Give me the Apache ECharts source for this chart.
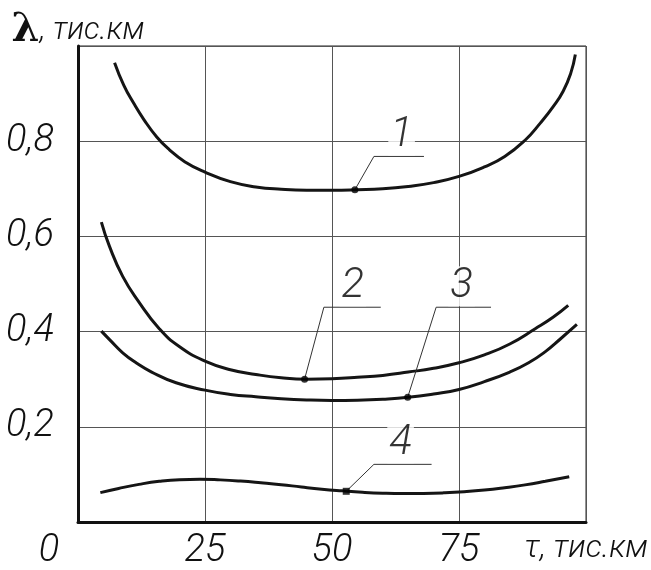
<!DOCTYPE html>
<html>
<head>
<meta charset="utf-8">
<script src="https://cdn.jsdelivr.net/npm/echarts@6/dist/echarts.min.js"></script>
<style>html,body{margin:0;padding:0;background:#fff}#c{width:651px;height:570px}</style>
</head>
<body>
<div id="c"></div>
<script>
// ---- data (τ in тис.км, λ in тис.км) ----
const tau1 = [7.2, 9, 11, 13, 15.5, 18, 21, 25, 30, 35, 40, 45, 50, 55, 60, 65, 70, 75, 80, 84, 88, 91, 93.5, 95.5, 97, 97.9];
const lam1 = [0.965, 0.918, 0.879, 0.845, 0.809, 0.782, 0.757, 0.735, 0.715, 0.704, 0.699, 0.697, 0.697, 0.698, 0.700, 0.705, 0.713, 0.726, 0.746, 0.768, 0.802, 0.838, 0.872, 0.905, 0.943, 0.982];

const tau2 = [4.6, 6.2, 8.8, 12, 16, 20, 25, 30, 35, 40, 45, 50, 55, 60, 65, 70, 75, 80, 85, 90, 93.5, 96.5];
const lam2 = [0.630, 0.579, 0.516, 0.462, 0.406, 0.368, 0.338, 0.320, 0.310, 0.303, 0.300, 0.301, 0.304, 0.308, 0.315, 0.323, 0.3345, 0.351, 0.374, 0.406, 0.430, 0.455];

const tau3 = [4.6, 6.5, 8.8, 11.5, 14.5, 19.3, 25, 30, 35, 40, 45, 50, 55, 60, 65, 70, 75, 80, 85, 88.7, 92, 95, 98.2];
const lam3 = [0.401, 0.380, 0.3555, 0.334, 0.315, 0.2925, 0.277, 0.268, 0.263, 0.259, 0.2565, 0.2555, 0.256, 0.258, 0.262, 0.269, 0.2785, 0.295, 0.315, 0.3345, 0.358, 0.385, 0.415];

const tau4 = [4.4, 8, 12, 16, 20, 24, 28, 32, 36, 40, 44, 48, 52, 56, 60, 64, 68, 72, 76, 80, 84, 88, 92, 96.7];
const lam4 = [0.0617, 0.0705, 0.079, 0.0855, 0.089, 0.0898, 0.0885, 0.086, 0.0825, 0.0785, 0.0735, 0.0690, 0.0655, 0.0625, 0.0605, 0.0597, 0.0600, 0.0612, 0.0635, 0.067, 0.072, 0.078, 0.0855, 0.095];

// curve labels and leader lines
const curveNames  = ['1', '2', '3', '4'];
const markerTau   = [54.5, 44.6, 64.9, 52.8];
const markerLam   = [0.698, 0.300, 0.262, 0.0645];
const elbowTau    = [58.25, 48.4, 70.5, 58.25];
const shelfLam    = [0.768, 0.4512, 0.4512, 0.1211];
const shelfEndTau = [68.1, 59.6, 81.3, 69.6];
const labelTau    = [63.7, 54.1, 75.5, 63.5];

// axes
const xMin = 0, xMax = 100, xStep = 25;
const yMin = 0, yMax = 1, yStep = 0.2;
const xName = 'τ, тис.км';
const yNameSym = 'λ';
const yNameUnit = ', тис.км';

// ---- build ----
const FONT = "Roboto, 'DejaVu Sans Condensed', sans-serif";
const zip = (a, b) => a.map((v, i) => [v, b[i]]);

const curves = [[tau1, lam1], [tau2, lam2], [tau3, lam3], [tau4, lam4]];
const series = [];
curves.forEach((c, i) => {
  series.push({
    type: 'line', name: curveNames[i], data: zip(c[0], c[1]),
    smooth: 0.5, showSymbol: false, symbol: 'none',
    lineStyle: { color: '#151515', width: 3 }, z: 3, silent: true
  });
});
curveNames.forEach((n, i) => {
  series.push({
    type: 'line', data: [[markerTau[i], markerLam[i]], [elbowTau[i], shelfLam[i]], [shelfEndTau[i], shelfLam[i]]],
    symbol: 'none', lineStyle: { color: '#333', width: 1 }, z: 4, silent: true
  });
  series.push({
    type: 'scatter', data: [[markerTau[i], markerLam[i]]],
    symbol: i === 3 ? 'rect' : 'circle', symbolSize: 7,
    itemStyle: { color: '#000' }, z: 6, silent: true
  });
  series.push({
    type: 'scatter', data: [[labelTau[i], shelfLam[i]]], symbolSize: 0, z: 5, silent: true,
    label: {
      show: true, position: 'top', distance: 1, formatter: n,
      fontFamily: FONT, fontStyle: 'italic', fontWeight: 300, fontSize: 42, color: '#000',
      backgroundColor: '#fff', padding: [0, 2, 0, 2], lineHeight: 40
    }
  });
});

const chart = echarts.init(document.getElementById('c'), null, { renderer: 'canvas' });
chart.setOption({
  animation: false,
  backgroundColor: '#fff',
  grid: { left: 78, right: 64, top: 46, bottom: 47, show: true, borderColor: '#222', borderWidth: 1, containLabel: false },
  xAxis: {
    type: 'value', min: xMin, max: xMax, interval: xStep,
    axisLine: { show: true, lineStyle: { color: '#111', width: 3 } },
    axisTick: { show: false },
    splitLine: { show: true, lineStyle: { color: '#555', width: 1 } },
    axisLabel: {
      margin: 10, fontFamily: FONT, fontStyle: 'italic', fontWeight: 300, fontSize: 38, color: '#111',
      formatter: v => v === xMin ? '{z|0}' : (v === xMax ? '' : String(v)),
      rich: { z: { padding: [0, 58, 0, 0], fontFamily: FONT, fontStyle: 'italic', fontWeight: 300, fontSize: 38, color: '#111' } }
    },
    name: xName, nameLocation: 'end', nameGap: -62,
    nameTextStyle: { fontFamily: FONT, fontStyle: 'italic', fontWeight: 300, fontSize: 32, color: '#111', align: 'left', verticalAlign: 'top', padding: [11, 0, 0, 0] }
  },
  yAxis: {
    type: 'value', min: yMin, max: yMax, interval: yStep,
    axisLine: { show: true, lineStyle: { color: '#111', width: 3 } },
    axisTick: { show: false },
    splitLine: { show: true, lineStyle: { color: '#555', width: 1 } },
    axisLabel: {
      margin: 24, fontFamily: FONT, fontStyle: 'italic', fontWeight: 300, fontSize: 38, color: '#111',
      formatter: v => (Math.abs(v - yMin) < 1e-9 || Math.abs(v - yMax) < 1e-9) ? '' : v.toFixed(1).replace('.', ',')
    },
    name: '{l|' + yNameSym + '}{t|' + yNameUnit + '}', nameLocation: 'end', nameGap: -5,
    nameTextStyle: {
      rich: {
        l: { fontFamily: "'DejaVu Serif', serif", fontWeight: 'bold', fontSize: 40, color: '#111' },
        t: { fontFamily: FONT, fontStyle: 'italic', fontWeight: 300, fontSize: 31, color: '#111' }
      }
    }
  },
  series: series
});
</script>
</body>
</html>
